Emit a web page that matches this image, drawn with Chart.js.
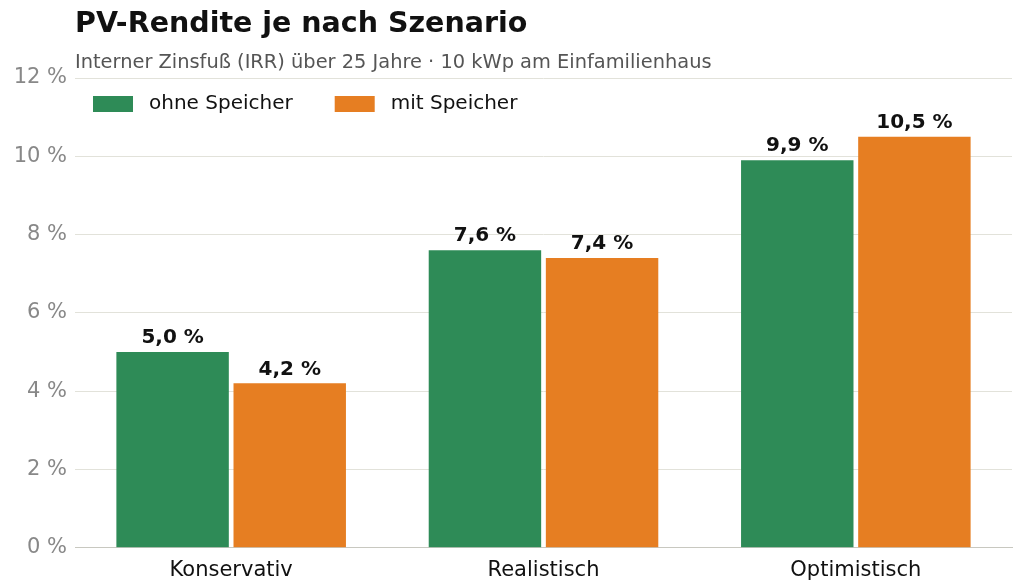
<!DOCTYPE html>
<html><head><meta charset="utf-8">
<script src="https://cdn.jsdelivr.net/npm/chart.js@4"></script>
<style>
body{margin:0;background:#fff;font-family:"DejaVu Sans",sans-serif;}
#wrap{position:relative;width:1024px;height:585px;}
#t{position:absolute;left:75px;top:6px;font-size:28.5px;font-weight:bold;color:#111;}
#s{position:absolute;left:75px;top:50px;font-size:19.4px;color:#555;}
canvas{position:absolute;left:0;top:0;}
</style></head><body>
<div id="wrap"><canvas id="c" width="1024" height="585"></canvas>
<div id="t">PV-Rendite je nach Szenario</div>
<div id="s">Interner Zinsfuß (IRR) über 25 Jahre · 10 kWp am Einfamilienhaus</div></div>
<script>
const categories = ['Konservativ', 'Realistisch', 'Optimistisch'];
const ohneSpeicher = [5.0, 7.6, 9.9];
const mitSpeicher = [4.2, 7.4, 10.5];
const seriesNames = ['ohne Speicher', 'mit Speicher'];
const colors = ['#2e8b57', '#e67e22'];

const fmt = v => v.toFixed(1).replace('.', ',') + ' %';

const overlay = {
  id: 'overlay',
  afterDatasetsDraw(chart) {
    const ctx = chart.ctx;
    ctx.save();
    ctx.font = 'bold 20px "DejaVu Sans"';
    ctx.fillStyle = '#111';
    ctx.textAlign = 'center';
    ctx.textBaseline = 'bottom';
    chart.data.datasets.forEach((ds, i) => {
      chart.getDatasetMeta(i).data.forEach((bar, j) => {
        ctx.fillText(fmt(ds.data[j]), bar.x, bar.y - 4);
      });
    });
    // legend
    const a = chart.chartArea;
    let x = a.left + 18;
    const y = a.top + 26;
    ctx.font = '20px "DejaVu Sans"';
    ctx.textAlign = 'left';
    ctx.textBaseline = 'middle';
    chart.data.datasets.forEach(ds => {
      ctx.fillStyle = ds.backgroundColor;
      ctx.fillRect(x, y - 8, 40, 16);
      ctx.fillStyle = '#111';
      ctx.fillText(ds.label, x + 56, y);
      x += 56 + ctx.measureText(ds.label).width + 42;
    });
    ctx.restore();
  }
};

new Chart(document.getElementById('c'), {
  type: 'bar',
  data: {
    labels: categories,
    datasets: [
      { label: seriesNames[0], data: ohneSpeicher, backgroundColor: colors[0] },
      { label: seriesNames[1], data: mitSpeicher, backgroundColor: colors[1] }
    ]
  },
  options: {
    responsive: false,
    animation: false,
    layout: { padding: { top: 78, right: 12, left: 0, bottom: 0 } },
    datasets: { bar: { categoryPercentage: 0.75, barPercentage: 0.96 } },
    plugins: { legend: { display: false }, tooltip: { enabled: false } },
    scales: {
      x: {
        grid: { display: false },
        border: { color: '#c8c8c0' },
        ticks: { color: '#111', font: { size: 21, family: 'DejaVu Sans' }, padding: 2 }
      },
      y: {
        min: 0, max: 12,
        afterFit: s => { s.width = 75; },
        ticks: { stepSize: 2, color: '#888', font: { size: 21, family: 'DejaVu Sans' }, callback: v => v + ' %', padding: 8 },
        grid: { color: '#e2e2da', drawTicks: false },
        border: { display: false }
      }
    }
  },
  plugins: [overlay]
});
</script></body></html>
